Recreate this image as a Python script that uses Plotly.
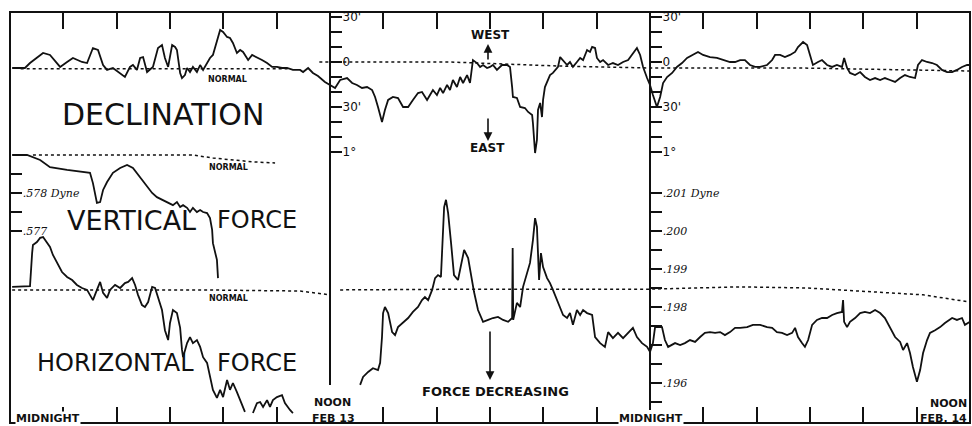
import plotly.graph_objects as go

# ---------------- data (hours after midnight Feb 13) ----------------
decl_hours = [0.08,0.56,0.75,1.24,1.5,1.88,2.14,2.36,2.7,2.89,
    3.11,3.3,3.49,3.64,3.86,4.13,4.31,4.5,4.61,4.76,
    4.88,4.99,5.14,5.36,5.55,5.7,5.81,5.93,6.08,6.19,
    6.26,6.38,6.45,6.56,6.64,6.75,6.86,7.01,7.13,7.24,
    7.5,7.61,7.76,7.88,7.99,8.14,8.25,8.36,8.51,8.63,
    8.74,8.93,9.08,9.26,9.45,9.64,9.83,10.01,10.2,10.39,
    10.61,10.88,10.99,11.18,11.36,11.55,11.81,12.0,12.19,12.38,
    12.64,12.83,13.01,13.2,13.39,13.58,13.69,13.8,13.95,14.06,
    14.18,14.36,14.55,14.74,14.93,15.11,15.3,15.45,15.64,15.75,
    15.86,16.01,16.13,16.24,16.39,16.5,16.61,16.76,16.88,16.99,
    17.14,17.25,17.36,17.51,17.63,17.74,17.89,18.0,18.11,18.26,
    18.45,18.64,18.75,18.83,18.86,19.01,19.13,19.31,19.43,19.58,
    19.61,19.69,19.76,19.8,19.88,19.95,19.99,20.06,20.18,20.25,
    20.36,20.55,20.63,20.74,20.89,21.0,21.11,21.26,21.38,21.49,
    21.64,21.75,21.83,21.94,22.01,22.13,22.24,22.43,22.61,22.8,
    22.99,23.18,23.36,23.51,23.63,23.74,23.89,24.0,24.11,24.26,
    24.38,24.49,24.64,24.83,25.01,25.2,25.39,25.61,25.8,25.99,
    26.25,26.51,26.74,27.0,27.19,27.38,27.56,27.75,27.94,28.13,
    28.39,28.58,28.69,28.88,29.06,29.25,29.44,29.55,29.74,29.89,
    30.0,30.11,30.3,30.45,30.64,30.83,31.01,31.2,31.28,31.39,
    31.5,31.69,31.88,32.06,32.25,32.44,32.63,32.81,33.0,33.19,
    33.38,33.56,33.75,33.94,34.05,34.2,34.39,34.58,34.76,34.95,
    35.14,35.33,35.51,35.7,35.89,36.0]
decl_minutes = [-4,-4,-0.7,6,4.7,-3.3,0,2.7,0,-0.7,
    9.3,8,-2,-5.3,-4,-7.3,-10,-3.3,-2,-5.3,
    2.7,3.3,-6.7,-3.3,9.3,11.3,2.7,-3.3,11.3,10,
    8,-7.3,-10.7,-8.7,-4,-6.7,-3.3,-6.7,-2,-5.3,
    2.7,4.7,14.7,21.3,20,16.7,16,12.7,6,8,
    6.7,1.3,4.7,3.3,1.3,-0.7,-3.3,-3.3,-4,-4,
    -5.3,-5.3,-6.7,-4,-7.3,-9.3,-13.3,-15.3,-17.3,-12,
    -10.7,-14,-15.3,-17.3,-16.7,-18.7,-23.3,-30,-40,-32,
    -25.3,-23.3,-24,-30,-30,-25.3,-20.7,-20,-25.3,-22,
    -18.7,-22,-17.3,-20.7,-15.3,-18.7,-12,-16.7,-10,-14,
    -8.7,-14,1.3,-0.7,-3.3,-2,-4,-3.3,-2,-5.3,
    -2,-2,-3.3,-16.7,-23.3,-24,-30,-30.7,-33.3,-35.3,
    -40.7,-60.7,-52,-32,-27.3,-36.7,-25.3,-16.7,-12,-8.7,
    -7.3,-3.3,3.3,1.3,-2,0,-3.3,0,2.7,1.3,
    8,6.7,10,9.3,2.7,0,1.3,-2,-0.7,-2,
    0,1.3,6,9.3,4.7,-3.3,-10.7,-15.3,-22,-30,
    -23.3,-14,-10,-7.3,-3.3,-0.7,2.7,4.7,6.7,4.7,
    3.3,2.7,1.3,0,0,1.3,1.3,-2,-3.3,-3.3,
    -2,1.3,4.7,4.7,3.3,4.7,6.7,10,13.3,11.3,
    4.7,-2,0,1.3,-2,-3.3,-2,-3.3,2.7,-4,
    -7.3,-8.7,-6.7,-10,-12,-10.7,-12,-10.7,-12,-13.3,
    -10.7,-8.7,-10,-10.7,-2,1.3,0,-0.7,-2,-5.3,
    -6.7,-6.7,-5.3,-3.3,-2,-2]
decl_normal_hours = [0.4, 10.5, None, 11.6, 16.5, 20.6, 24.0, 29.6, 36.0]
decl_normal_minutes = [-4.5, -4.5, None, 0, 0, -2.7, -4, -4, -6]

vert_hours = [0.08,0.64,1.13,1.5,2.14,2.74,3.0,3.11,3.26,3.38,
    3.49,3.64,3.86,4.13,4.39,4.61,4.88,5.14,5.33,5.51,
    5.7,5.89,6.11,6.26,6.38,6.49,6.64,6.75,6.86,7.01,
    7.13,7.24,7.39,7.5,7.58,7.61,7.76,7.8]
vert_dyne = [0.579,0.579,0.57887,0.57868,0.57861,0.57855,0.57853,0.57826,0.57774,0.57776,
    0.57808,0.57829,0.57853,0.57866,0.57874,0.57866,0.57842,0.57816,0.578,0.57789,
    0.57782,0.57774,0.57768,0.57776,0.57763,0.57768,0.57761,0.5775,0.57761,0.5775,
    0.57755,0.5775,0.57747,0.57734,0.57703,0.57668,0.57624,0.57576]
vert_normal_hours = [0.86, 6.86, 7.61, 8.36, 9.11, 9.94]
vert_normal_dyne = [0.579, 0.579, 0.57892, 0.57887, 0.57882, 0.57879]

horiz_hours = [0.08,0.75,0.83,0.86,1.01,1.13,1.24,1.39,1.5,1.61,
    1.8,1.95,2.14,2.33,2.51,2.7,2.89,3.0,3.11,3.26,
    3.38,3.49,3.64,3.75,3.94,4.13,4.31,4.43,4.58,4.69,
    4.8,4.95,5.06,5.18,5.33,5.44,5.55,5.7,5.81,5.93,
    6.0,6.11,6.26,6.38,6.45,6.49,6.64,6.75,6.86,7.01,
    7.13,7.24,7.39,7.5,7.61,7.76,7.88,7.99,8.14,8.25,
    8.36,8.51,8.63,8.81,None,
    9.11,9.26,9.38,9.49,9.64,9.75,9.86,10.01,10.2,10.31,10.5,10.61,None,
    13.13,13.24,13.43,13.61,13.8,13.88,13.95,13.99,14.06,14.18,
    14.33,14.44,14.55,14.74,14.93,15.11,15.3,15.45,15.56,15.68,
    15.83,15.94,16.05,16.16,16.24,16.28,16.35,16.43,16.54,16.65,
    16.8,16.91,17.03,17.18,17.29,17.4,17.55,17.74,17.93,18.11,
    18.3,18.49,18.68,18.83,18.85,18.87,19.01,19.13,19.24,19.39,
    19.5,19.61,19.69,19.76,19.8,19.84,19.91,19.99,20.14,20.25,
    20.36,20.51,20.63,20.74,20.89,21.0,21.11,21.26,21.38,21.49,
    21.64,21.83,21.94,22.13,22.31,22.43,22.61,22.8,22.99,23.18,
    23.36,23.51,23.7,23.89,24.0,
    24.11,24.19,24.45,24.56,24.68,24.94,25.13,25.31,25.5,25.69,
    25.88,26.06,26.25,26.44,26.63,26.81,27.0,27.19,27.38,27.64,
    27.86,28.13,28.39,28.58,28.76,28.95,29.14,29.33,29.44,29.55,
    29.7,29.81,29.93,30.08,30.26,30.45,30.64,30.83,31.01,31.2,
    31.24,31.28,31.39,31.5,31.69,31.88,32.06,32.25,32.44,32.63,
    32.81,33.0,33.19,33.38,33.49,33.64,33.75,33.86,34.01,34.13,
    34.24,34.39,34.5,34.69,34.88,35.06,35.33,35.51,35.7,35.81,36.0]
horiz_dyne = [0.19853,0.19855,0.19942,0.19963,0.19971,0.19982,0.19984,0.19968,0.19958,0.19937,
    0.19911,0.19892,0.19879,0.19871,0.19858,0.1985,0.19845,0.19832,0.19818,0.19845,
    0.19866,0.19837,0.19824,0.19845,0.19858,0.1985,0.19863,0.19866,0.19876,0.19858,
    0.19832,0.19805,0.198,0.19813,0.19853,0.1985,0.19824,0.19792,0.19739,0.19713,
    0.19758,0.19792,0.19784,0.19745,0.19687,0.19668,0.19705,0.19721,0.19705,0.19713,
    0.19695,0.19668,0.19653,0.19616,0.19582,0.19561,0.19582,0.19563,0.19608,0.19582,
    0.196,0.19576,0.19555,0.19524,None,
    0.19521,0.19547,0.1955,0.19537,0.19555,0.19537,0.19555,0.19563,0.19568,0.19547,0.19529,0.19521,None,
    0.19595,0.19616,0.19629,0.19639,0.19634,0.19653,0.19721,0.19784,0.198,0.19784,
    0.19734,0.19726,0.19747,0.19758,0.19771,0.19787,0.198,0.19818,0.19826,0.19818,
    0.19845,0.19876,0.19884,0.19879,0.19995,0.20063,0.20082,0.20047,0.19968,0.19884,
    0.19871,0.19905,0.1995,0.19929,0.19879,0.1984,0.19792,0.19761,0.19766,0.19771,
    0.19774,0.19766,0.19761,0.19771,0.19955,0.19766,0.19811,0.198,0.19853,0.19892,
    0.19916,0.19976,0.20034,0.20011,0.19932,0.19871,0.19942,0.19905,0.19876,0.19863,
    0.19845,0.19818,0.198,0.19779,0.19771,0.19784,0.19753,0.19792,0.19779,0.19792,
    0.19784,0.19779,0.19721,0.19705,0.19695,0.19734,0.19718,0.19732,0.19718,0.19732,
    0.19745,0.19721,0.19705,0.19695,0.19682,
    0.19705,0.19747,0.19747,0.19713,0.19695,0.19705,0.197,0.19705,0.19713,0.19708,
    0.19721,0.19732,0.19734,0.19732,0.19734,0.19726,0.19734,0.19745,0.19745,0.19747,
    0.19753,0.19753,0.19747,0.19745,0.19734,0.19732,0.19726,0.19732,0.19745,0.19721,
    0.19705,0.19695,0.19713,0.19753,0.19766,0.19771,0.19771,0.19779,0.19784,0.19787,
    0.19818,0.19761,0.19747,0.19761,0.19771,0.19784,0.19787,0.19784,0.19792,0.19784,
    0.19771,0.19745,0.19721,0.19708,0.19687,0.19705,0.19679,0.19642,0.19603,0.19634,
    0.19679,0.19713,0.19732,0.19739,0.19747,0.19758,0.19771,0.19766,0.19771,0.19753,0.19761]
horiz_normal_hours = [0.08, 7.13, 10.88, 12.0, None, 12.38, 17.63, 24.0, 27.38, 29.89, 32.36, 34.24, 36.0]
horiz_normal_dyne = [0.19845, 0.19845, 0.19842, 0.19832, None, 0.19845, 0.19847, 0.19847, 0.19853, 0.1985, 0.19839, 0.19832, 0.19813]

time_ticks = [2, 4, 6, 8, 10, 14, 16, 18, 20, 22, 26, 28, 30, 32, 34]
decl_tick_vals = [30, 20, 10, 0, -10, -20, -30, -40, -50, -60]
decl_tick_text = ["30'", "", "", "0", "", "", "30'", "", "", "1°"]
horiz_tick_vals = [0.201, 0.2005, 0.200, 0.1995, 0.199, 0.1985, 0.198, 0.1975, 0.197, 0.1965, 0.196, 0.1955]
horiz_tick_text = ["<i>.201 Dyne</i>", "", "<i>.200</i>", "", "<i>.199</i>", "", "<i>.198</i>", "", "", "", "<i>.196</i>", ""]
vert_tick_vals = [0.5785, 0.578, 0.5775, 0.577]
vert_tick_text = ["", "<i>.578 Dyne</i>", "", "<i>.577</i>"]

# ---------------- figure ----------------
W, H = 972, 426
ML, MR, MT, MB = 10, 2, 12, 3
PW, PH = W - ML - MR, H - MT - MB

def PX(px):
    return (px - ML) / PW

def PY(py):
    return (H - MB - py) / PH

INK = "#111111"
fig = go.Figure()

fig.add_trace(go.Scatter(x=decl_normal_hours, y=decl_normal_minutes, yaxis="y", mode="lines",
                         line=dict(color=INK, width=1.5, dash="dot"), hoverinfo="skip"))
fig.add_trace(go.Scatter(x=decl_hours, y=decl_minutes, yaxis="y", mode="lines",
                         line=dict(color=INK, width=1.8)))
fig.add_trace(go.Scatter(x=vert_normal_hours, y=vert_normal_dyne, yaxis="y3", mode="lines",
                         line=dict(color=INK, width=1.5, dash="dot"), hoverinfo="skip"))
fig.add_trace(go.Scatter(x=vert_hours, y=vert_dyne, yaxis="y3", mode="lines",
                         line=dict(color=INK, width=1.8)))
fig.add_trace(go.Scatter(x=horiz_normal_hours, y=horiz_normal_dyne, yaxis="y2", mode="lines",
                         line=dict(color=INK, width=1.5, dash="dot"), hoverinfo="skip"))
fig.add_trace(go.Scatter(x=horiz_hours, y=horiz_dyne, yaxis="y2", mode="lines",
                         line=dict(color=INK, width=1.8)))
fig.add_trace(go.Scatter(x=[], y=[], yaxis="y4", mode="lines"))
fig.add_trace(go.Scatter(x=[], y=[], xaxis="x2", yaxis="y", mode="lines"))

decl_range = [-240.67, 33.33]
horiz_range = [0.1949474, 0.2057632]
vert_range = [0.5719474, 0.5827632]

common_y = dict(showgrid=False, zeroline=False, showline=False, ticks="inside",
                ticklen=11, tickwidth=1.6, tickcolor=INK, anchor="free",
                ticklabelposition="inside", ticklabeloverflow="allow", fixedrange=True)
common_x = dict(range=[0, 36], showgrid=False, zeroline=False, showline=True,
                linecolor=INK, linewidth=2, ticks="inside", tickwidth=2, tickcolor=INK,
                tickvals=time_ticks, showticklabels=False, anchor="free", fixedrange=True)

fig.update_layout(
    width=W, height=H,
    margin=dict(l=ML, r=MR, t=MT, b=MB),
    paper_bgcolor="white", plot_bgcolor="white", showlegend=False,
    xaxis=dict(side="bottom", position=0, ticklen=15, **common_x),
    xaxis2=dict(side="top", position=1, ticklen=16, overlaying="x", **common_x),
    yaxis=dict(range=decl_range, position=1/3, tickvals=decl_tick_vals, ticktext=decl_tick_text,
               tickfont=dict(family="DejaVu Sans", size=12, color=INK), **common_y),
    yaxis4=dict(range=decl_range, position=2/3, overlaying="y", tickvals=decl_tick_vals,
                ticktext=decl_tick_text, tickfont=dict(family="DejaVu Sans", size=12, color=INK), **common_y),
    yaxis2=dict(range=horiz_range, position=2/3, overlaying="y", tickvals=horiz_tick_vals,
                ticktext=horiz_tick_text, tickfont=dict(family="DejaVu Serif", size=11, color=INK), **common_y),
    yaxis3=dict(range=vert_range, position=0, overlaying="y", tickvals=vert_tick_vals,
                ticktext=vert_tick_text, tickfont=dict(family="DejaVu Serif", size=11, color=INK), **common_y),
)

# frame and day dividers
fig.add_shape(type="rect", xref="paper", yref="paper", x0=0, x1=1, y0=0, y1=1,
              line=dict(color=INK, width=2))
fig.add_shape(type="line", xref="x", yref="paper", x0=12, x1=12, y0=PY(385), y1=1,
              line=dict(color=INK, width=2))
fig.add_shape(type="line", xref="x", yref="paper", x0=24, x1=24, y0=PY(410), y1=1,
              line=dict(color=INK, width=2))

def label(text, px, py, size, bold=False, family="DejaVu Sans", bg=None, xanchor="center"):
    t = "<b>" + text + "</b>" if bold else text
    fig.add_annotation(x=PX(px), y=PY(py), xref="paper", yref="paper", text=t, showarrow=False,
                       xanchor=xanchor, yanchor="middle", font=dict(family=family, size=size, color=INK),
                       bgcolor=bg, borderpad=0)

label("DECLINATION", 163, 114, 30)
label("VERTICAL", 131, 220, 27)
label("FORCE", 257, 220, 24)
label("HORIZONTAL", 115, 363, 24)
label("FORCE", 257, 363, 24)
label("NORMAL", 227, 79, 8, bold=True)
label("NORMAL", 228, 167, 8, bold=True)
label("NORMAL", 228, 298, 8, bold=True)
label("MIDNIGHT", 48, 418, 11, bold=True, bg="white")
label("NOON", 332, 402, 11, bold=True)
label("FEB 13", 333, 418, 11, bold=True)
label("MIDNIGHT", 651, 418, 11, bold=True, bg="white")
label("NOON", 968, 403, 11, bold=True, xanchor="right")
label("FEB. 14", 968, 418, 11, bold=True, xanchor="right")
label("WEST", 490, 35, 12, bold=True)
label("EAST", 487, 148, 12, bold=True)
label("FORCE DECREASING", 495, 391, 13, bold=True)

def arrow(px, py_head, py_tail):
    fig.add_annotation(x=PX(px), y=PY(py_head), xref="paper", yref="paper", text="",
                       showarrow=True, ax=0, ay=py_tail - py_head, axref="pixel", ayref="pixel",
                       arrowhead=2, arrowsize=1.1, arrowwidth=1.6, arrowcolor=INK)

arrow(488, 44, 61)
arrow(488, 141, 117)
arrow(490, 380, 330)

fig.write_html("out.html", config={"displayModeBar": False},
               post_script="document.body.style.margin='0';")
